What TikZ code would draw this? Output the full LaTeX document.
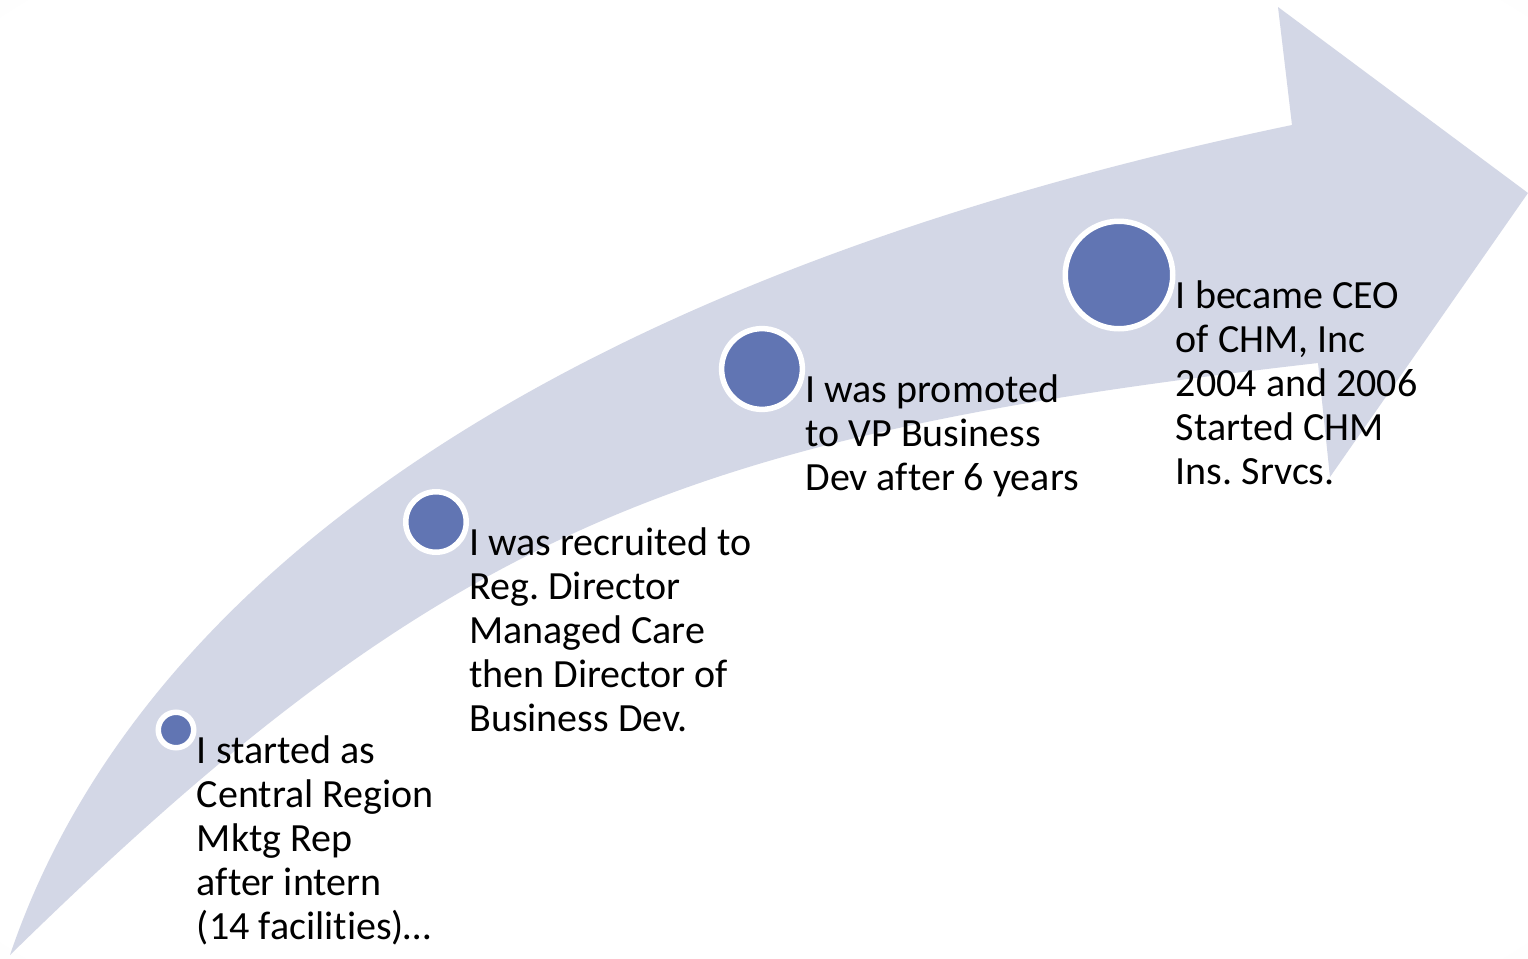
\documentclass[tikz,border=0pt]{standalone}
\usepackage{fontspec}
\setmainfont{Carlito}[Ligatures={NoCommon}]
\usetikzlibrary{positioning}

\definecolor{bandgray}{HTML}{D3D7E6}
\definecolor{dotblue}{HTML}{6175B3}
\pgfdeclareradialshading{slidebg}{\pgfpoint{0bp}{0bp}}{color(0bp)=(white); color(34bp)=(white); color(71bp)=(black!10)}
\newcommand{\storylines}[1]{\begin{tabular}[t]{@{}l@{}}#1\end{tabular}}

\begin{document}
\frenchspacing
\begin{tikzpicture}[x=0.5pt, y=-0.5pt,
  milestone/.style={circle, fill=dotblue, draw=white, line width=2.75pt, inner sep=0pt},
  story/.style={anchor=base west, inner sep=0pt,
    font=\fontsize{20}{22}\selectfont}]
  % slide background
  \shade[shading=slidebg] (0,0) rectangle (1528,959);
  \useasboundingbox (0,0) rectangle (1528,959);

  % the curved arrow
  \fill[bandgray] (10,955) .. controls (133,591) and (538,282) .. (1292,125)
    -- (1278,7) -- (1528,193) -- (1330,477) -- (1318,363)
    .. controls (681,436) and (445,529) .. (10,955) -- cycle;

  % milestones
  \node[milestone, minimum size=17.75pt] (intern) at (176,730) {};
  \node[milestone, minimum size=30.25pt] (recruit) at (436,522) {};
  \node[milestone, minimum size=40.4pt] (promote) at (762,369) {};
  \node[milestone, minimum size=53.75pt] (ceo) at (1119,275) {};

  \node[story] (internText) at ([yshift=-16.5pt]intern.east)
    {\storylines{I started as\\Central Region\\Mktg Rep\\after intern\\(14 facilities)…}};
  \node[story] (recruitText) at ([yshift=-16.5pt]recruit.east)
    {\storylines{I was recruited to\\Reg. Director\\Managed Care\\then Director of\\Business Dev.}};
  \node[story] (promoteText) at ([yshift=-16.5pt]promote.east)
    {\storylines{I was promoted\\to VP Business\\Dev after 6 years}};
  \node[story] (ceoText) at ([yshift=-16.5pt]ceo.east)
    {\storylines{I became CEO\\of CHM, Inc\\2004 and 2006\\Started CHM\\Ins. Srvcs.}};
\end{tikzpicture}
\end{document}
